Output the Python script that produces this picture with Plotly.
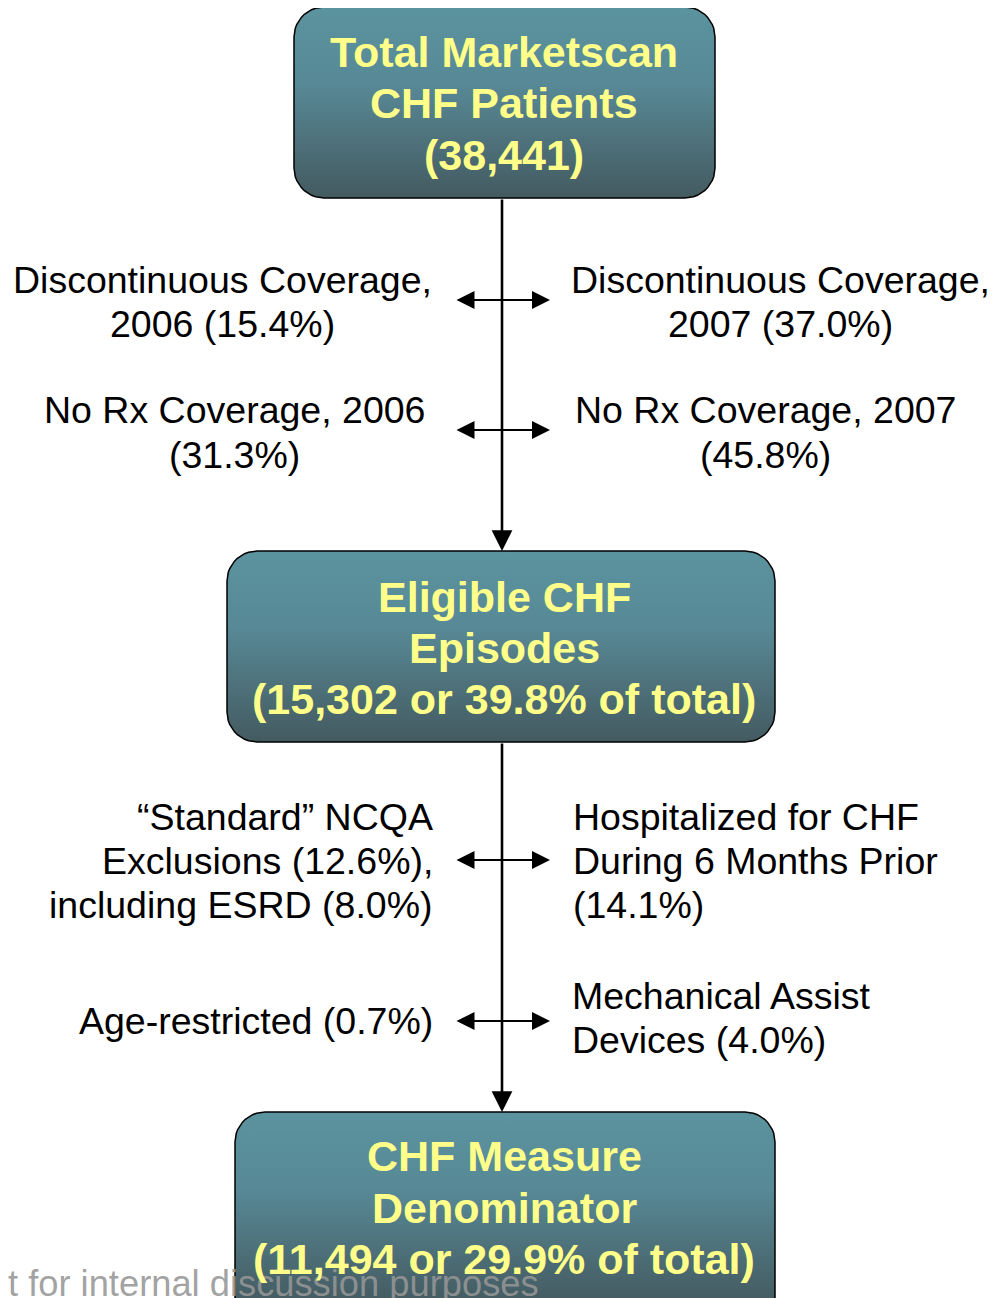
import numpy as np
import plotly.graph_objects as go

# ---- content ----
box_labels = [
    ["Total Marketscan", "CHF Patients", "(38,441)"],
    ["Eligible CHF", "Episodes", "(15,302 or 39.8% of total)"],
    ["CHF Measure", "Denominator", "(11,494 or 29.9% of total)"],
]
left_notes = [
    ["Discontinuous Coverage,", "2006 (15.4%)"],
    ["No Rx Coverage, 2006", "(31.3%)"],
    ["\u201cStandard\u201d NCQA", "Exclusions (12.6%),", "including ESRD (8.0%)"],
    ["Age-restricted (0.7%)"],
]
right_notes = [
    ["Discontinuous Coverage,", "2007 (37.0%)"],
    ["No Rx Coverage, 2007", "(45.8%)"],
    ["Hospitalized for CHF", "During 6 Months Prior", "(14.1%)"],
    ["Mechanical Assist", "Devices (4.0%)"],
]
watermark = "t for internal discussion purposes"

# ---- layout (page pixel space; page body has an 8px margin) ----
W, H = 1001, 1298
OFF = 8
FONT = "Liberation Sans, Arial, sans-serif"
CX = 502
boxes = [(294, 7, 715, 198), (227, 551, 775, 742), (235, 1112, 775, 1340)]
box_line_y = [[52, 103, 155], [597, 648, 699], [1156, 1208, 1259]]
branch_y = [300, 430, 860, 1021]
left_cfg = [  # x, anchor, line centres
    (222, "center", [280, 324]),
    (234, "center", [410, 455]),
    (435, "right", [817, 861, 905]),
    (435, "right", [1021]),
]
right_cfg = [
    (780, "center", [280, 324]),
    (765, "center", [410, 455]),
    (571, "left", [817, 861, 905]),
    (570, "left", [996, 1040]),
]


def rounded_rect(x0, y0, x1, y1, r=30, n=12):
    xs, ys = [], []
    corners = [(x1 - r, y0 + r, -90, 0), (x1 - r, y1 - r, 0, 90),
               (x0 + r, y1 - r, 90, 180), (x0 + r, y0 + r, 180, 270)]
    for cx, cy, a0, a1 in corners:
        t = np.radians(np.linspace(a0, a1, n))
        xs += list(cx + r * np.cos(t))
        ys += list(cy + r * np.sin(t))
    return xs + [xs[0]], ys + [ys[0]]


fig = go.Figure()

for (x0, y0, x1, y1) in boxes:
    bx, by = rounded_rect(x0, y0, x1, y1)
    fig.add_trace(go.Scatter(
        x=bx, y=by, mode="lines", fill="toself",
        fillgradient=dict(type="vertical", start=y0, stop=min(y1, y0 + 192),
                          colorscale=[[0, "#5b939f"], [0.4, "#578996"], [1, "#445a60"]]),
        line=dict(color="black", width=1.5),
        hoverinfo="skip", showlegend=False,
    ))

annotations = []

# watermark under the box text
annotations.append(dict(
    x=541, y=1283, xref="x", yref="y", text=watermark, showarrow=False,
    xanchor="right", yanchor="middle",
    font=dict(family=FONT, size=36.3, color="rgba(150,150,150,0.9)"),
))

# main down arrows
for (b0, b1) in zip(boxes[:-1], boxes[1:]):
    annotations.append(dict(
        x=CX, y=b1[1], ax=CX, ay=b0[3], xref="x", yref="y", axref="x", ayref="y",
        text="", showarrow=True, arrowhead=2, arrowsize=1.6, arrowwidth=2.6,
        arrowcolor="black", standoff=0,
    ))

# side double arrows
for yb in branch_y:
    annotations.append(dict(
        x=550, y=yb, ax=455, ay=yb, xref="x", yref="y", axref="x", ayref="y",
        text="", showarrow=True, arrowhead=2, startarrowhead=2, arrowside="end+start",
        arrowsize=2.0, startarrowsize=2.0, arrowwidth=1.8,
        arrowcolor="black", standoff=0, startstandoff=0,
    ))

for lines, ys in zip(box_labels, box_line_y):
    for txt, yy in zip(lines, ys):
        annotations.append(dict(
            x=CX + 2, y=yy, xref="x", yref="y", text="<b>%s</b>" % txt,
            showarrow=False, xanchor="center", yanchor="middle",
            font=dict(family=FONT, size=43, color="#ffff8a"),
        ))

for notes, cfg in ((left_notes, left_cfg), (right_notes, right_cfg)):
    for lines, (xx, anchor, ys) in zip(notes, cfg):
        for txt, yy in zip(lines, ys):
            annotations.append(dict(
                x=xx, y=yy, xref="x", yref="y", text=txt, showarrow=False,
                xanchor=anchor, yanchor="middle",
                font=dict(family=FONT, size=37.5, color="black"),
            ))

fig.update_layout(
    width=W, height=H, margin=dict(l=0, r=0, t=0, b=0),
    paper_bgcolor="white", plot_bgcolor="white",
    xaxis=dict(range=[OFF, W + OFF], visible=False, fixedrange=True),
    yaxis=dict(range=[H + OFF, OFF], visible=False, fixedrange=True),
    annotations=annotations, showlegend=False,
)

fig.write_html("out.html")
